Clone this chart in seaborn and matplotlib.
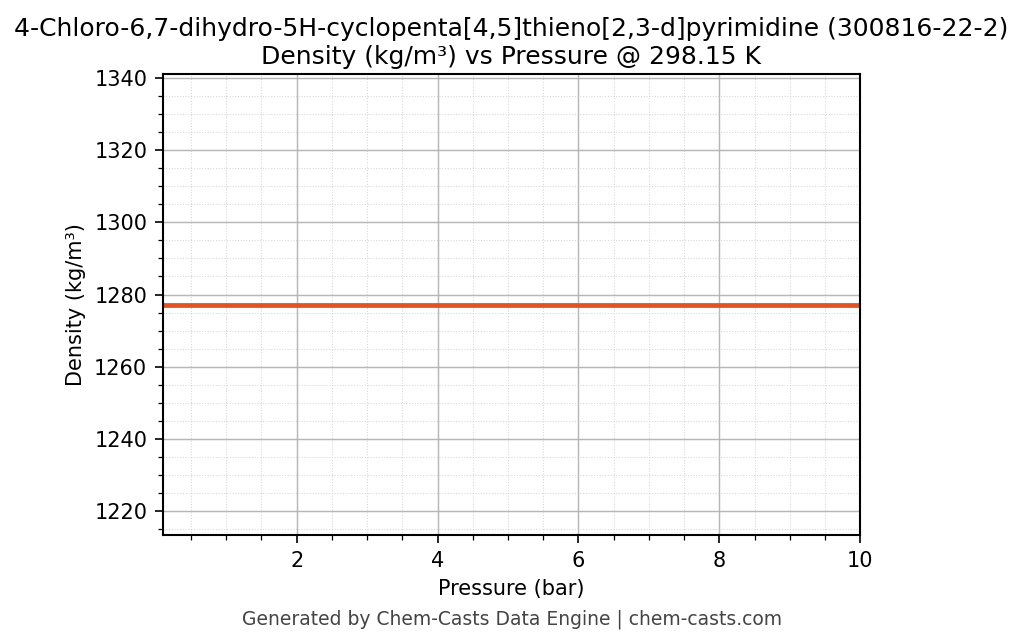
import matplotlib
matplotlib.use("Agg")
import matplotlib.pyplot as plt
import pandas as pd
import seaborn as sns
from matplotlib.ticker import AutoMinorLocator

pressure_bar = [0.1, 1.0, 2.0, 3.0, 4.0, 5.0, 6.0, 7.0, 8.0, 9.0, 10.0]
density_kgm3 = [1277.2, 1277.2, 1277.2, 1277.2, 1277.2, 1277.2, 1277.2, 1277.2, 1277.2, 1277.2, 1277.2]

df = pd.DataFrame({"pressure": pressure_bar, "density": density_kgm3})

sns.set_style("ticks")
plt.rcParams["font.family"] = ["DejaVu Sans"]
plt.rcParams["text.color"] = "black"
plt.rcParams["axes.labelcolor"] = "black"

fig = plt.figure(figsize=(1024 / 150, 644 / 150), dpi=150)
ax = fig.add_axes([0.159, 0.169, 0.681, 0.716])

sns.lineplot(data=df, x="pressure", y="density", ax=ax, color="#E05423", linewidth=2.3)

ref = df["density"].mean()
ax.set_xlim(df["pressure"].min(), df["pressure"].max())
ax.set_ylim(ref * 0.95, ref * 1.05)
ax.xaxis.set_minor_locator(AutoMinorLocator())
ax.yaxis.set_minor_locator(AutoMinorLocator())
ax.grid(True, which="major", color="#b0b0b0", linewidth=0.7, alpha=0.9)
ax.grid(True, which="minor", color="#cccccc", linestyle=":", linewidth=0.5, alpha=0.8)
for s in ax.spines.values():
    s.set_visible(True)
    s.set_color("black")
    s.set_linewidth(1.0)
ax.tick_params(which="both", direction="out", colors="black", labelsize=10)
ax.tick_params(which="major", length=4)
ax.tick_params(which="minor", length=2.5)

ax.set_xlabel("Pressure (bar)", fontsize=10, color="black")
ax.set_ylabel("Density (kg/m³)", fontsize=10, color="black")
ax.set_title("4-Chloro-6,7-dihydro-5H-cyclopenta[4,5]thieno[2,3-d]pyrimidine (300816-22-2)\n"
             "Density (kg/m³) vs Pressure @ 298.15 K", fontsize=12, color="black", pad=5)

fig.text(0.5, 0.039, "Generated by Chem-Casts Data Engine | chem-casts.com",
         ha="center", va="center", fontsize=9, color="#444444")

fig.savefig("out.png", dpi=150)
plt.close(fig)
